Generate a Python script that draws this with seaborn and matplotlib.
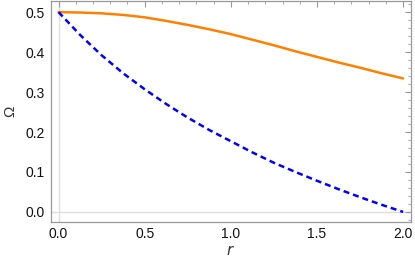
import numpy as np
import pandas as pd
import matplotlib
matplotlib.use("Agg")
import matplotlib.pyplot as plt
import seaborn as sns
from matplotlib.ticker import AutoMinorLocator, MultipleLocator

# valores
r_vals = [0.0, 0.125, 0.25, 0.375, 0.5, 0.625, 0.75, 0.875, 1.0,
          1.125, 1.25, 1.375, 1.5, 1.625, 1.75, 1.875, 2.0]
omega_solid = [0.500, 0.499, 0.497, 0.493, 0.487, 0.478, 0.468, 0.457, 0.445,
               0.431, 0.417, 0.402, 0.388, 0.374, 0.361, 0.347, 0.334]
omega_dashed = [0.500, 0.443, 0.392, 0.347, 0.307, 0.270, 0.236, 0.205, 0.177,
                0.149, 0.123, 0.100, 0.078, 0.057, 0.037, 0.018, 0.000]

df = pd.DataFrame({"r": r_vals, "solid": omega_solid, "dashed": omega_dashed})

sns.set_theme(style="white")
plt.rcParams['font.family'] = ['Liberation Sans', 'DejaVu Sans']

fig = plt.figure(figsize=(4.15, 2.69), dpi=100)
ax = fig.add_axes([0.122, 0.175, 0.868, 0.823])

ax.axhline(0, color="#dddddd", lw=1, zorder=0)
ax.axvline(0, color="#dddddd", lw=1, zorder=0)

sns.lineplot(data=df, x="r", y="solid", ax=ax, color="#ff8000", lw=1.8)
sns.lineplot(data=df, x="r", y="dashed", ax=ax, color="#0000ff", lw=1.8,
             linestyle=(0, (2.4, 1.6)))

ax.set_xlim(-0.046, 2.045)
ax.set_ylim(-0.025, 0.529)
ax.xaxis.set_major_locator(MultipleLocator(0.5))
ax.yaxis.set_major_locator(MultipleLocator(0.1))
ax.xaxis.set_minor_locator(AutoMinorLocator(5))
ax.yaxis.set_minor_locator(AutoMinorLocator(5))
ax.xaxis.set_major_formatter(matplotlib.ticker.FormatStrFormatter('%.1f'))
ax.yaxis.set_major_formatter(matplotlib.ticker.FormatStrFormatter('%.1f'))

ax.tick_params(which="both", direction="in", top=True, right=True,
               color="#999999", labelsize=10, labelcolor="#111111", pad=4)
ax.tick_params(which="major", length=4, width=0.8)
ax.tick_params(which="minor", length=2, width=0.6)
for s in ax.spines.values():
    s.set_color("#999999")
    s.set_linewidth(0.9)

ax.set_xlabel("$r$", fontsize=11, color="#333333", labelpad=2)
ax.set_ylabel("Ω", fontsize=11, color="#333333", labelpad=6)

fig.savefig("out.png", dpi=100)
